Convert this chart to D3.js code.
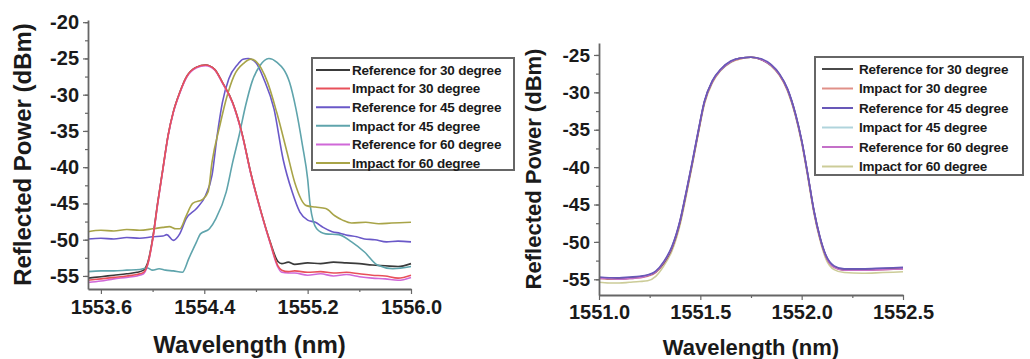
<!DOCTYPE html>
<html>
<head>
<meta charset="utf-8">
<script src="https://cdn.jsdelivr.net/npm/d3@7"></script>
<style>
  body { margin: 0; background: #fff; }
  svg text { font-family: "Liberation Sans", Arial, sans-serif; font-weight: bold; fill: #1a1a1a; }
</style>
</head>
<body>
<svg id="chart"></svg>
<script>
// legend labels, shared by both panels
const seriesNames = [
  "Reference for 30 degree",
  "Impact for 30 degree",
  "Reference for 45 degree",
  "Impact for 45 degree",
  "Reference for 60 degree",
  "Impact for 60 degree"
];

// left panel: [wavelength nm, reflected power dBm]
const leftRef30 = [[1553.50,-55.3],[1553.60,-55.1],[1553.70,-54.9],[1553.80,-54.7],[1553.88,-54.5],[1553.93,-54.2],[1553.96,-53.3],[1554.00,-49.9],[1554.04,-44.8],[1554.08,-40.2],[1554.12,-35.6],[1554.16,-32.4],[1554.21,-29.7],[1554.26,-27.6],[1554.34,-26.2],[1554.41,-25.9],[1554.48,-26.5],[1554.54,-28.3],[1554.62,-31.1],[1554.69,-35.2],[1554.76,-40.8],[1554.84,-46.2],[1554.91,-50.3],[1554.97,-53.0],[1555.00,-53.3],[1555.05,-53.1],[1555.10,-53.4],[1555.20,-53.2],[1555.30,-53.3],[1555.40,-53.1],[1555.50,-53.2],[1555.60,-53.3],[1555.70,-53.5],[1555.80,-53.6],[1555.90,-53.7],[1556.00,-53.3]];
const leftImp30 = [[1553.50,-55.6],[1553.60,-55.4],[1553.70,-55.2],[1553.80,-55.0],[1553.88,-54.8],[1553.93,-54.5],[1553.96,-53.5],[1554.00,-50.0],[1554.04,-44.9],[1554.08,-40.2],[1554.12,-35.6],[1554.16,-32.4],[1554.21,-29.7],[1554.26,-27.6],[1554.34,-26.2],[1554.41,-25.9],[1554.48,-26.5],[1554.54,-28.3],[1554.62,-31.1],[1554.69,-35.2],[1554.76,-40.8],[1554.84,-46.2],[1554.91,-50.4],[1554.97,-53.6],[1555.00,-54.2],[1555.05,-54.4],[1555.10,-54.3],[1555.20,-54.5],[1555.30,-54.4],[1555.40,-54.6],[1555.50,-54.5],[1555.60,-54.7],[1555.70,-54.9],[1555.80,-55.0],[1555.90,-55.3],[1556.00,-54.9]];
const leftRef45 = [[1553.50,-49.9],[1553.60,-49.8],[1553.70,-49.9],[1553.80,-49.7],[1553.90,-49.8],[1554.00,-49.6],[1554.08,-49.5],[1554.11,-49.3],[1554.16,-50.1],[1554.21,-49.2],[1554.26,-47.1],[1554.34,-45.7],[1554.41,-43.9],[1554.46,-41.1],[1554.50,-35.6],[1554.54,-31.1],[1554.59,-27.8],[1554.66,-25.8],[1554.70,-25.1],[1554.74,-25.0],[1554.80,-25.6],[1554.86,-27.8],[1554.94,-32.0],[1555.01,-38.9],[1555.08,-43.4],[1555.14,-46.2],[1555.20,-47.3],[1555.26,-47.6],[1555.32,-48.3],[1555.39,-48.9],[1555.45,-49.1],[1555.51,-49.4],[1555.58,-49.6],[1555.64,-49.9],[1555.72,-50.0],[1555.81,-50.3],[1555.90,-50.2],[1556.00,-50.3]];
const leftImp45 = [[1553.50,-54.4],[1553.60,-54.3],[1553.70,-54.3],[1553.80,-54.2],[1553.90,-54.1],[1553.96,-53.9],[1554.00,-54.2],[1554.05,-54.0],[1554.10,-54.2],[1554.16,-54.3],[1554.23,-54.5],[1554.28,-52.6],[1554.34,-50.3],[1554.37,-49.2],[1554.44,-48.5],[1554.49,-47.1],[1554.57,-43.4],[1554.62,-39.3],[1554.67,-35.6],[1554.72,-31.5],[1554.77,-28.2],[1554.83,-26.0],[1554.90,-25.0],[1554.96,-25.5],[1555.06,-28.3],[1555.11,-32.0],[1555.16,-37.0],[1555.20,-41.6],[1555.22,-45.3],[1555.27,-48.5],[1555.34,-49.2],[1555.44,-49.3],[1555.54,-50.3],[1555.64,-51.7],[1555.74,-53.5],[1555.86,-54.0],[1556.00,-53.7]];
const leftRef60 = [[1553.50,-55.9],[1553.60,-55.7],[1553.70,-55.4],[1553.80,-55.2],[1553.88,-55.0],[1553.93,-54.7],[1553.96,-53.6],[1554.00,-50.1],[1554.04,-45.0],[1554.08,-40.3],[1554.12,-35.7],[1554.16,-32.5],[1554.21,-29.8],[1554.26,-27.7],[1554.34,-26.3],[1554.41,-26.0],[1554.48,-26.6],[1554.54,-28.4],[1554.62,-31.2],[1554.69,-35.3],[1554.76,-40.9],[1554.84,-46.3],[1554.91,-50.5],[1554.97,-53.8],[1555.00,-54.5],[1555.05,-54.6],[1555.10,-54.6],[1555.20,-54.9],[1555.30,-54.7],[1555.40,-55.0],[1555.50,-54.8],[1555.60,-55.1],[1555.70,-55.3],[1555.80,-55.4],[1555.90,-55.6],[1556.00,-55.2]];
const leftImp60 = [[1553.50,-48.9],[1553.60,-48.7],[1553.70,-48.8],[1553.80,-48.6],[1553.90,-48.7],[1554.00,-48.5],[1554.08,-48.3],[1554.13,-48.2],[1554.18,-48.5],[1554.21,-48.5],[1554.26,-46.7],[1554.31,-45.0],[1554.39,-44.4],[1554.43,-43.4],[1554.46,-39.3],[1554.52,-34.3],[1554.57,-30.6],[1554.63,-27.4],[1554.71,-25.6],[1554.76,-25.1],[1554.80,-25.4],[1554.89,-28.3],[1554.96,-32.4],[1555.04,-37.9],[1555.10,-42.1],[1555.19,-45.3],[1555.26,-45.5],[1555.34,-45.7],[1555.41,-46.7],[1555.47,-47.3],[1555.54,-47.7],[1555.65,-47.6],[1555.75,-47.8],[1555.85,-47.7],[1556.00,-47.6]];

// right panel: shared wavelength grid, one value list per series
const rightWl = [1551.00,1551.05,1551.10,1551.15,1551.20,1551.24,1551.28,1551.32,1551.36,1551.40,1551.43,1551.46,1551.49,1551.52,1551.56,1551.60,1551.65,1551.70,1551.75,1551.80,1551.85,1551.89,1551.93,1551.97,1552.00,1552.03,1552.06,1552.09,1552.12,1552.16,1552.21,1552.30,1552.40,1552.50];
const rightRef30 = [-54.8,-54.9,-54.9,-54.8,-54.7,-54.5,-54.0,-52.8,-50.8,-47.3,-43.5,-39.5,-35.3,-31.3,-28.5,-27.0,-25.9,-25.4,-25.3,-25.6,-26.4,-27.6,-29.6,-33.0,-36.5,-41.0,-45.8,-49.4,-51.9,-53.3,-53.7,-53.7,-53.6,-53.5];
const rightImp30 = [-54.9,-55.0,-55.0,-54.9,-54.8,-54.6,-54.1,-52.9,-50.9,-47.4,-43.6,-39.6,-35.4,-31.4,-28.6,-27.0,-25.9,-25.5,-25.3,-25.6,-26.4,-27.7,-29.7,-33.1,-36.6,-41.1,-45.9,-49.5,-52.0,-53.4,-53.8,-53.8,-53.7,-53.6];
const rightRef45 = [-54.7,-54.8,-54.8,-54.7,-54.6,-54.4,-53.9,-52.6,-50.6,-47.1,-43.3,-39.3,-35.1,-31.2,-28.4,-26.9,-25.8,-25.4,-25.3,-25.5,-26.3,-27.5,-29.5,-32.9,-36.4,-40.9,-45.7,-49.3,-51.8,-53.2,-53.6,-53.6,-53.5,-53.4];
const rightImp45 = [-54.8,-54.9,-54.9,-54.9,-54.7,-54.5,-54.0,-52.8,-50.7,-47.2,-43.4,-39.4,-35.2,-31.3,-28.5,-27.0,-25.9,-25.4,-25.3,-25.6,-26.4,-27.6,-29.6,-33.0,-36.5,-41.0,-45.8,-49.4,-51.9,-53.3,-53.7,-53.7,-53.6,-53.5];
const rightRef60 = [-54.9,-54.9,-55.0,-54.9,-54.8,-54.5,-54.0,-52.7,-50.7,-47.2,-43.4,-39.4,-35.2,-31.3,-28.5,-27.0,-25.9,-25.4,-25.3,-25.6,-26.4,-27.6,-29.6,-33.0,-36.5,-41.0,-45.8,-49.4,-51.9,-53.4,-53.8,-53.8,-53.7,-53.6];
const rightImp60 = [-55.4,-55.5,-55.5,-55.4,-55.3,-55.2,-54.6,-53.2,-51.2,-47.7,-43.9,-39.8,-35.5,-31.6,-28.7,-27.1,-26.0,-25.5,-25.3,-25.6,-26.5,-27.7,-29.8,-33.2,-36.8,-41.3,-46.1,-49.7,-52.3,-53.7,-54.1,-54.2,-54.1,-54.0];

// tick labels
const leftXTicks = [1553.6, 1554.4, 1555.2, 1556.0];
const leftYTicks = [-20, -25, -30, -35, -40, -45, -50, -55];
const rightXTicks = [1551.0, 1551.5, 1552.0, 1552.5];
const rightYTicks = [-25, -30, -35, -40, -45, -50, -55];

const width = 1030;
const height = 359;

const svg = d3.select("#chart")
  .attr("width", width)
  .attr("height", height);

const leftColors = ["#3a3a3a", "#e8505a", "#6a58c8", "#5fa4ac", "#d068d8", "#a8a448"];
const rightColors = ["#4a4a4a", "#e09088", "#6858b8", "#b0d4dc", "#c470c8", "#cccc98"];

function drawPanel(opt) {
  const x = d3.scaleLinear().domain(opt.xDomain).range(opt.xRange);
  const y = d3.scaleLinear().domain(opt.yDomain).range(opt.yRange);
  const g = svg.append("g");

  const line = d3.line()
    .x(d => x(d[0]))
    .y(d => y(d[1]))
    .curve(d3.curveMonotoneX);

  // curves, drawn in the given order (index still points to the legend colour)
  g.selectAll(".curve")
    .data(opt.order)
    .enter()
    .append("path")
    .attr("class", "curve")
    .attr("fill", "none")
    .attr("stroke", i => opt.colors[i])
    .attr("stroke-width", 1.6)
    .attr("d", i => line(opt.series[i]));

  // minor ticks
  const minorY = d3.range(opt.yTicks[opt.yTicks.length - 1], opt.yDomain[1], 2.5);
  g.append("g")
    .attr("transform", `translate(${opt.xRange[0]},0)`)
    .call(d3.axisLeft(y).tickValues(minorY).tickSize(3).tickFormat("").tickSizeOuter(0))
    .call(a => a.select(".domain").remove());
  const step = opt.xTicks[1] - opt.xTicks[0];
  const minorX = opt.xTicks.map(v => v - step / 2).filter(v => v > opt.xDomain[0]);
  g.append("g")
    .attr("transform", `translate(0,${opt.yRange[0]})`)
    .call(d3.axisBottom(x).tickValues(minorX).tickSize(3).tickFormat("").tickSizeOuter(0))
    .call(a => a.select(".domain").remove());

  // major axes
  const yAxis = g.append("g")
    .attr("transform", `translate(${opt.xRange[0]},0)`)
    .call(d3.axisLeft(y).tickValues(opt.yTicks).tickSize(5).tickPadding(4)
      .tickFormat(d => String(d)).tickSizeOuter(0));
  yAxis.selectAll("text").style("font-size", opt.yFont + "px").attr("fill", "#1a1a1a");

  const xAxis = g.append("g")
    .attr("transform", `translate(0,${opt.yRange[0]})`)
    .call(d3.axisBottom(x).tickValues(opt.xTicks).tickSize(5).tickPadding(opt.xPad)
      .tickFormat(d3.format(".1f")).tickSizeOuter(0));
  xAxis.selectAll("text").style("font-size", opt.xFont + "px").attr("fill", "#1a1a1a");

  g.selectAll(".domain").attr("stroke", "#666").attr("stroke-width", 1.8);
  g.selectAll(".tick line").attr("stroke", "#666").attr("stroke-width", 1.2);

  // axis titles
  g.append("text")
    .attr("x", (opt.xRange[0] + opt.xRange[1]) / 2)
    .attr("y", opt.xTitleY)
    .attr("text-anchor", "middle")
    .style("font-size", opt.titleFont + "px")
    .text("Wavelength (nm)");

  g.append("text")
    .attr("transform", `translate(${opt.yTitleX},${(opt.yRange[0] + opt.yRange[1]) / 2}) rotate(-90)`)
    .attr("text-anchor", "middle")
    .style("font-size", opt.titleFont + "px")
    .text("Reflected Power (dBm)");

  // legend
  const lg = g.append("g").attr("transform", `translate(${opt.legend.x},${opt.legend.y})`);
  lg.append("rect")
    .attr("width", opt.legend.w)
    .attr("height", opt.legend.h)
    .attr("fill", "#fff")
    .attr("stroke", "#666")
    .attr("stroke-width", 2);

  const items = lg.selectAll(".legend-item")
    .data(seriesNames)
    .enter()
    .append("g")
    .attr("class", "legend-item")
    .attr("transform", (d, i) => `translate(0,${opt.legend.first + i * opt.legend.gap})`);

  items.append("line")
    .attr("x1", opt.legend.lx0)
    .attr("x2", opt.legend.lx1)
    .attr("stroke", (d, i) => opt.colors[i])
    .attr("stroke-width", 2);

  items.append("text")
    .attr("x", opt.legend.tx)
    .attr("dy", "0.36em")
    .style("font-size", "13.5px")
    .style("letter-spacing", "-0.2px")
    .text(d => d);
}

drawPanel({
  xDomain: [1553.5, 1556.0], xRange: [88, 411],
  yDomain: [-56.8, -19.7], yRange: [289, 20],
  xTicks: leftXTicks, yTicks: leftYTicks,
  series: [leftRef30, leftImp30, leftRef45, leftImp45, leftRef60, leftImp60],
  order: [0, 2, 3, 5, 4, 1],
  colors: leftColors,
  yFont: 20, xFont: 20, xPad: 6, titleFont: 24,
  xTitleY: 353, yTitleX: 31,
  legend: { x: 312, y: 58, w: 202, h: 112, first: 12, gap: 18.6, lx0: 4, lx1: 38, tx: 40 }
});

drawPanel({
  xDomain: [1551.0, 1552.5], xRange: [599, 903],
  yDomain: [-57.1, -23.4], yRange: [295, 43],
  xTicks: rightXTicks, yTicks: rightYTicks,
  series: [rightRef30, rightImp30, rightRef45, rightImp45, rightRef60, rightImp60]
    .map(s => s.map((v, i) => [rightWl[i], v])),
  order: [5, 3, 1, 0, 4, 2],
  colors: rightColors,
  yFont: 19, xFont: 20, xPad: 5, titleFont: 22,
  xTitleY: 355, yTitleX: 541,
  legend: { x: 815, y: 57, w: 208, h: 118, first: 12, gap: 19.5, lx0: 7, lx1: 38, tx: 44 }
});
</script>
</body>
</html>
